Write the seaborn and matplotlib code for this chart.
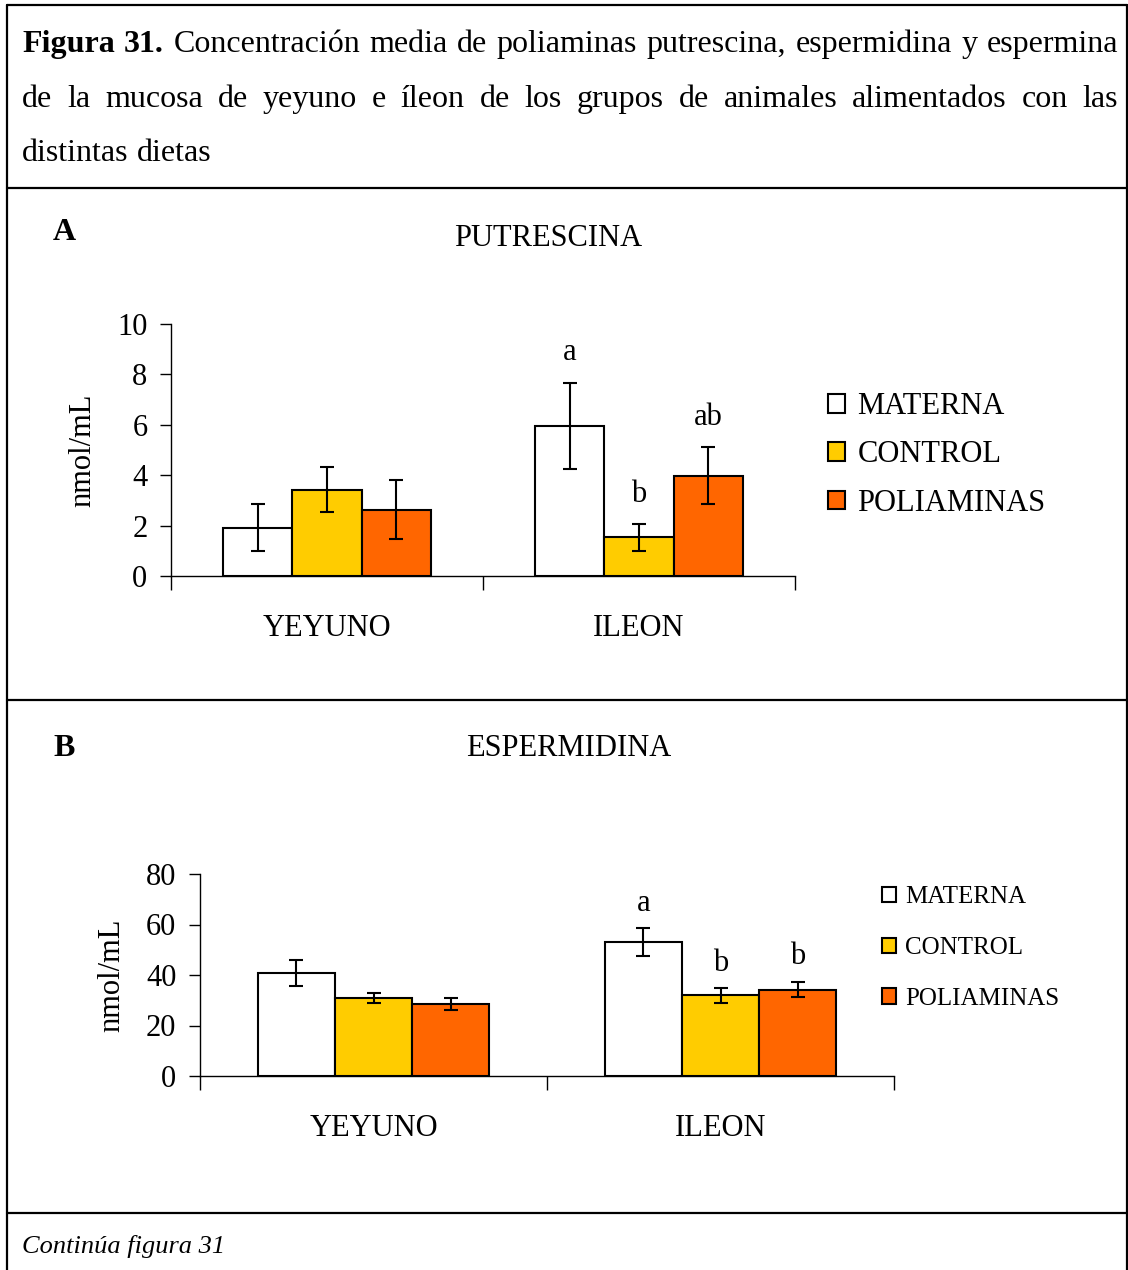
import numpy as np
import pandas as pd
import matplotlib
matplotlib.use("Agg")
import matplotlib.pyplot as plt
import seaborn as sns
from matplotlib.lines import Line2D

# ---------------- data ----------------
categories = ["YEYUNO", "ILEON"]
groups = ["MATERNA", "CONTROL", "POLIAMINAS"]
group_colors = ["#FFFFFF", "#FFCC00", "#FF6600"]

put_materna = [1.92, 5.95]
put_control = [3.43, 1.53]
put_poliaminas = [2.63, 3.98]
put_err_materna = [0.92, 1.72]
put_err_control = [0.88, 0.53]
put_err_poliaminas = [1.17, 1.12]
put_let_materna = ["", "a"]
put_let_control = ["", "b"]
put_let_poliaminas = ["", "ab"]
put_yticks = [0, 2, 4, 6, 8, 10]

esp_materna = [40.7, 53.0]
esp_control = [30.9, 31.9]
esp_poliaminas = [28.6, 34.2]
esp_err_materna = [5.2, 5.6]
esp_err_control = [2.0, 2.8]
esp_err_poliaminas = [2.4, 3.1]
esp_let_materna = ["", "a"]
esp_let_control = ["", "b"]
esp_let_poliaminas = ["", "b"]
esp_yticks = [0, 20, 40, 60, 80]

caption_line1 = "Figura 31. Concentración media de poliaminas putrescina, espermidina y espermina"
caption_line2 = "de la mucosa de yeyuno e íleon de los grupos de animales alimentados con las"
caption_line3 = "distintas dietas"
footer = "Continúa figura 31"

# ---------------- style ----------------
sns.set_style("ticks")
plt.rcParams["font.family"] = ["Liberation Serif", "DejaVu Serif"]
plt.rcParams["axes.linewidth"] = 1.0
for k in ["text.color", "axes.labelcolor", "xtick.color", "ytick.color", "axes.edgecolor"]:
    plt.rcParams[k] = "black"

W, H = 1128, 1270
fig = plt.figure(figsize=(W / 100, H / 100), dpi=100)
fig.patch.set_facecolor("white")


def fx(px):
    return px / W


def fy(py):
    return 1 - py / H


def build_df(m, c, p):
    rows = []
    for vals, g in zip([m, c, p], groups):
        for cat, v in zip(categories, vals):
            rows.append({"Segmento": cat, "Grupo": g, "Valor": v})
    return pd.DataFrame(rows)


def draw_panel(ax, df, errs, letters, yticks, letter_off, fs_ticks=22):
    sns.barplot(data=df, x="Segmento", y="Valor", hue="Grupo",
                order=categories, hue_order=groups,
                palette=dict(zip(groups, group_colors)), saturation=1,
                edgecolor="black", linewidth=1.5, width=2 / 3,
                errorbar=None, legend=False, ax=ax)
    for cont, e_list, l_list in zip(ax.containers, errs, letters):
        for bar, e, lab in zip(cont, e_list, l_list):
            x = bar.get_x() + bar.get_width() / 2
            h = bar.get_height()
            ax.errorbar(x, h, yerr=e, color="black", capsize=5,
                        elinewidth=1.5, capthick=1.5, zorder=5)
            if lab:
                ax.annotate(lab, xy=(x, h + e), xytext=(0, letter_off),
                            textcoords="offset points", ha="center",
                            va="center", fontsize=22, color="black")
    ax.set_xlim(-0.5, 1.5)
    ax.set_ylim(yticks[0], yticks[-1])
    ax.set_yticks(yticks)
    ax.set_yticklabels([str(t) for t in yticks], fontsize=fs_ticks)
    ax.set_xticks([-0.5, 0.5, 1.5])
    ax.set_xticklabels([])
    ax.set_xticks([0, 1], minor=True)
    ax.set_xticklabels(categories, minor=True, fontsize=22)
    ax.tick_params(axis="x", which="major", length=10, width=1, direction="out",
                   colors="black")
    ax.tick_params(axis="x", which="minor", length=0, pad=27, colors="black")
    ax.tick_params(axis="y", length=8, width=1, direction="out", pad=9, colors="black")
    ax.set_xlabel("")
    ax.set_ylabel("nmol/mL", fontsize=22, labelpad=14, color="black")
    for s in ["top", "right"]:
        ax.spines[s].set_visible(False)
    for s in ["left", "bottom"]:
        ax.spines[s].set_color("black")
        ax.spines[s].set_linewidth(1.0)


# ---------------- panel A ----------------
axA = fig.add_axes([fx(171), fy(576), fx(795) - fx(171), fy(324) - fy(576)])
draw_panel(axA, build_df(put_materna, put_control, put_poliaminas),
           [put_err_materna, put_err_control, put_err_poliaminas],
           [put_let_materna, put_let_control, put_let_poliaminas],
           put_yticks, 21.5)
hA = [c[0] for c in axA.containers]
fig.legend(hA, groups, loc="center left", bbox_to_anchor=(fx(828), fy(455)),
           frameon=False, fontsize=22, handlelength=0.56, handleheight=0.56,
           handletextpad=0.4, labelspacing=0.63, borderpad=0, borderaxespad=0,
           labelcolor="black")

# ---------------- panel B ----------------
axB = fig.add_axes([fx(200), fy(1076), fx(894) - fx(200), fy(874) - fy(1076)])
draw_panel(axB, build_df(esp_materna, esp_control, esp_poliaminas),
           [esp_err_materna, esp_err_control, esp_err_poliaminas],
           [esp_let_materna, esp_let_control, esp_let_poliaminas],
           esp_yticks, 18)
hB = [c[0] for c in axB.containers]
fig.legend(hB, groups, loc="center left", bbox_to_anchor=(fx(882), fy(948)),
           frameon=False, fontsize=18, handlelength=0.56, handleheight=0.56,
           handletextpad=0.35, labelspacing=1.15, borderpad=0, borderaxespad=0,
           labelcolor="black")

# ---------------- titles & letters ----------------
fig.text(fx(548), fy(238), "PUTRESCINA", ha="center", va="center", fontsize=22)
fig.text(fx(569), fy(749), "ESPERMIDINA", ha="center", va="center", fontsize=22)
fig.text(fx(64), fy(233), "A", ha="center", va="center", fontsize=23, weight="bold")
fig.text(fx(64), fy(749), "B", ha="center", va="center", fontsize=23, weight="bold")

# ---------------- frame lines ----------------
lw = 1.6
for ypx in [5, 188, 700, 1213]:
    fig.add_artist(Line2D([fx(7), fx(1127)], [fy(ypx), fy(ypx)], color="black", lw=lw))
for xpx in [7, 1127]:
    fig.add_artist(Line2D([fx(xpx), fx(xpx)], [fy(5), fy(1270)], color="black", lw=lw))

# ---------------- caption (justified) ----------------
renderer = fig.canvas.get_renderer()


def place_line(words, base_y, justify, fs=23):
    arts = []
    for w, bold in words:
        t = fig.text(0, fy(base_y), w, fontsize=fs, va="baseline", ha="left",
                     weight="bold" if bold else "normal")
        arts.append(t)
    widths = [a.get_window_extent(renderer).width for a in arts]
    x0, x1 = 22, 1118
    if justify and len(arts) > 1:
        gap = (x1 - x0 - sum(widths)) / (len(arts) - 1)
    else:
        gap = fs * 100 / 72 * 0.25
    x = x0
    for a, w in zip(arts, widths):
        a.set_x(fx(x))
        x += w + gap


l1 = caption_line1.split(" ")
words1 = [(w, i < 2) for i, w in enumerate(l1)]
place_line(words1, 52, True)
place_line([(w, False) for w in caption_line2.split(" ")], 107, True)
place_line([(w, False) for w in caption_line3.split(" ")], 161, False)

fig.text(fx(22), fy(1246), footer, ha="left", va="center", fontsize=19, style="italic")

fig.savefig("out.png", dpi=100, facecolor="white")
